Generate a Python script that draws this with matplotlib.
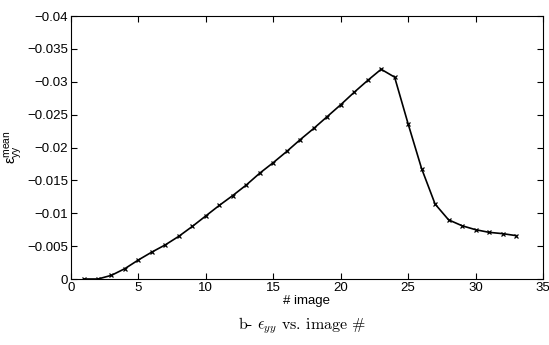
import matplotlib
matplotlib.use("Agg")
import matplotlib.pyplot as plt
import numpy as np

# mean eps_yy per image
images = np.arange(1, 34)
eps_yy_mean = [0.0, 0.0, -0.00056, -0.00158, -0.0029, -0.0041, -0.0052, -0.0065,
               -0.0080, -0.0096, -0.0112, -0.0127, -0.0143, -0.0161, -0.0177,
               -0.0194, -0.0212, -0.0229, -0.0247, -0.0265, -0.0284, -0.0302,
               -0.0319, -0.0307, -0.0236, -0.0168, -0.0114, -0.0090, -0.0081,
               -0.0075, -0.0071, -0.0069, -0.0066]

x_ticks = [0, 5, 10, 15, 20, 25, 30, 35]
y_ticks = [0, -0.005, -0.01, -0.015, -0.02, -0.025, -0.03, -0.035, -0.04]
y_ticklabels = ['0', '\u22120.005', '\u22120.01', '\u22120.015', '\u22120.02',
                '\u22120.025', '\u22120.03', '\u22120.035', '\u22120.04']

plt.rcParams['font.family'] = ['Liberation Sans', 'DejaVu Sans']
plt.rcParams['mathtext.fontset'] = 'custom'
plt.rcParams['mathtext.rm'] = 'Liberation Sans'
plt.rcParams['mathtext.it'] = 'Liberation Sans'

fig = plt.figure(figsize=(5.49, 3.45), dpi=100)
ax = fig.add_axes([0.1293, 0.1913, 0.8597, 0.7623])

ax.plot(images, eps_yy_mean, color='black', linewidth=1.2,
        marker='x', markersize=3, markeredgewidth=0.9)

ax.set_xlim(0, 35)
ax.set_ylim(0, -0.04)
ax.set_xticks(x_ticks)
ax.set_yticks(y_ticks)
ax.set_yticklabels(y_ticklabels)
ax.tick_params(direction='in', top=True, right=True, labelsize=9.5,
               length=4, width=0.8, pad=2)
for s in ax.spines.values():
    s.set_linewidth(0.8)

ax.set_xlabel('# image', fontsize=9.5, labelpad=1)
ax.set_ylabel(r'$\mathrm{\epsilon}_{\mathrm{yy}}^{\mathrm{mean}}$', fontsize=10.5,
              labelpad=2)

fig.text(0.55, 0.055, r'b- $\epsilon_{yy}$ vs. image #', ha='center',
         va='center', fontsize=11.5, family=['cmr10', 'DejaVu Serif'],
         math_fontfamily='cm')

fig.savefig('out.png', dpi=100)
